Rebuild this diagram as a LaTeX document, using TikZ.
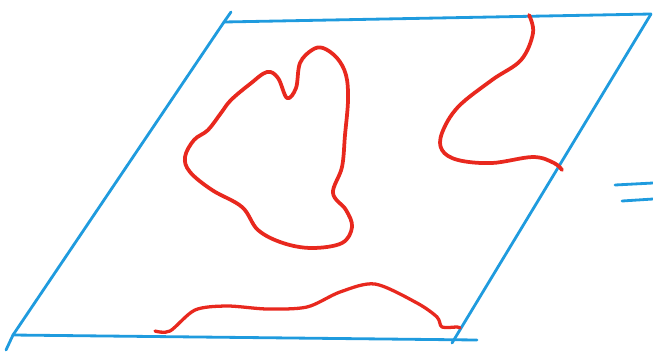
\documentclass[tikz,border=0pt]{standalone}
\usetikzlibrary{calc}
\definecolor{penblue}{HTML}{1F9BDE}
\definecolor{penred}{HTML}{E8281E}
\tikzset{
  edge/.style={penblue,line width=2.4pt,line cap=round},
  loopline/.style={penred,line width=3.2pt,line cap=round,line join=round},
}
\begin{document}
\begin{tikzpicture}[x=0.3mm,y=-0.3mm]
  \useasboundingbox (0,0) rectangle (653,354);
  % corners of the sheet
  \coordinate (tl) at (224,22);
  \coordinate (tr) at (651,14);
  \coordinate (bl) at (13,335);
  \coordinate (br) at (477,340);
  \draw[edge] (tl) -- (tr);
  \draw[edge] (231,12) -- (tl) -- (bl) -- (6,350);
  \draw[edge] (bl) -- (br);
  \draw[edge] (tr) -- (452,343);
  % closed loop in the middle
  \draw[loopline] plot[smooth cycle,tension=0.6] coordinates {
    (231,100) (250,84) (267,72) (278,78) (287,98) (296,88) (300,63) (312,50) (323,48)
    (337,58) (346,75) (348,100) (345,135) (342,167) (333,193) (346,210) (352,227)
    (342,243) (312,248) (283,243) (258,230) (242,207) (212,190) (190,172) (185,157)
    (194,140) (208,130) (221,113)};
  % open curve on the right
  \draw[loopline] plot[smooth,tension=0.6] coordinates {
    (529,15) (533,33) (521,60) (492,80) (458,107) (442,133) (442,150) (458,160)
    (492,163) (533,157) (554,163) (562,170)};
  % open curve at the bottom
  \draw[loopline,line width=2.8pt] plot[smooth,tension=0.5] coordinates {
    (155,331) (170,331) (195,310) (227,306) (267,309) (307,307) (340,292) (375,284)
    (417,303) (437,317) (442,327) (457,327) (460,328)};
  % equals sign
  \draw[edge] (615,185) -- (653,183);
  \draw[edge] (622,201) -- (653,199);
\end{tikzpicture}
\end{document}
